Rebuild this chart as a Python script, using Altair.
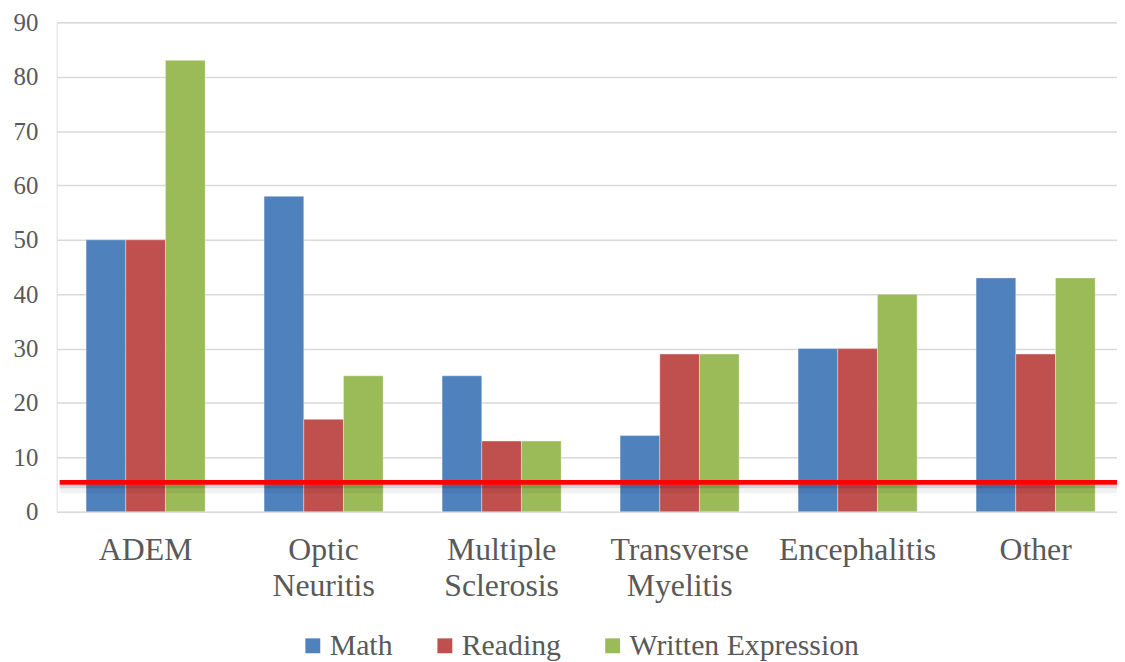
import altair as alt
import pandas as pd

categories = ["ADEM", "Optic Neuritis", "Multiple Sclerosis", "Transverse Myelitis", "Encephalitis", "Other"]
series = ["Math", "Reading", "Written Expression"]
math = [50, 58, 25, 14, 30, 43]
reading = [50, 17, 13, 29, 30, 29]
written = [83, 25, 13, 29, 40, 43]
threshold = [5.4]
colors = ["#4F81BD", "#C0504D", "#9BBB59"]
y_ticks = [0, 10, 20, 30, 40, 50, 60, 70, 80, 90]

rows = []
for i, c in enumerate(categories):
    for s, vals in zip(series, [math, reading, written]):
        rows.append({"category": c, "series": s, "value": vals[i]})
df = pd.DataFrame(rows)
thr = pd.DataFrame({"t": threshold})

FONT = "'Times New Roman', 'Liberation Serif', Tinos, 'DejaVu Serif', serif"
TXT = "#595959"
W, H = 1068, 493

bars = alt.Chart(df).mark_bar(stroke="white", strokeWidth=0.6, strokeOpacity=0.6).encode(
    x=alt.X("category:N", sort=categories, title=None,
            scale=alt.Scale(paddingInner=0.331, paddingOuter=0.144, align=0.574),
            axis=alt.Axis(labelAngle=0, labelExpr="split(datum.label, ' ')", labelFont=FONT,
                          labelFontSize=32, labelColor=TXT, labelLineHeight=36,
                          labelPadding=23, ticks=False, domain=False, grid=False,
                          labelBaseline="top", labelLimit=400)),
    xOffset=alt.XOffset("series:N", sort=series, scale=alt.Scale(paddingInner=0, paddingOuter=0)),
    y=alt.Y("value:Q", title=None, scale=alt.Scale(domain=[0, 90], nice=False),
            axis=alt.Axis(values=y_ticks, labelFont=FONT, labelFontSize=25, labelColor=TXT,
                          labelPadding=19, ticks=False, domain=False, grid=True,
                          gridColor="#D9D9D9", gridWidth=1.5)),
    color=alt.Color("series:N", sort=series, scale=alt.Scale(domain=series, range=colors),
                    legend=alt.Legend(title=None, orient="none", direction="horizontal",
                                      legendX=243, legendY=613, symbolType="square",
                                      symbolSize=225, symbolStrokeWidth=0, labelFont=FONT,
                                      labelFontSize=30, labelColor=TXT, labelOffset=2,
                                      columnPadding=37, padding=0, labelLimit=500)),
)

shadow1 = alt.Chart(thr).mark_rule(color="black", strokeWidth=8, opacity=0.05, yOffset=7).encode(
    y="t:Q", x=alt.value(3), x2=alt.value(W))
shadow2 = alt.Chart(thr).mark_rule(color="black", strokeWidth=4, opacity=0.12, yOffset=4).encode(
    y="t:Q", x=alt.value(3), x2=alt.value(W))
redline = alt.Chart(thr).mark_rule(color="#FF0000", strokeWidth=4.7).encode(
    y="t:Q", x=alt.value(3), x2=alt.value(W))

chart = alt.layer(bars, shadow1, shadow2, redline).properties(
    width=W, height=H,
    autosize=alt.AutoSizeParams(type="none"),
    padding={"left": 49, "top": 12, "right": 0, "bottom": 160},
).configure_view(stroke=None).configure(background="white")

chart.save("out.html", embed_options={"renderer": "svg", "actions": False})
